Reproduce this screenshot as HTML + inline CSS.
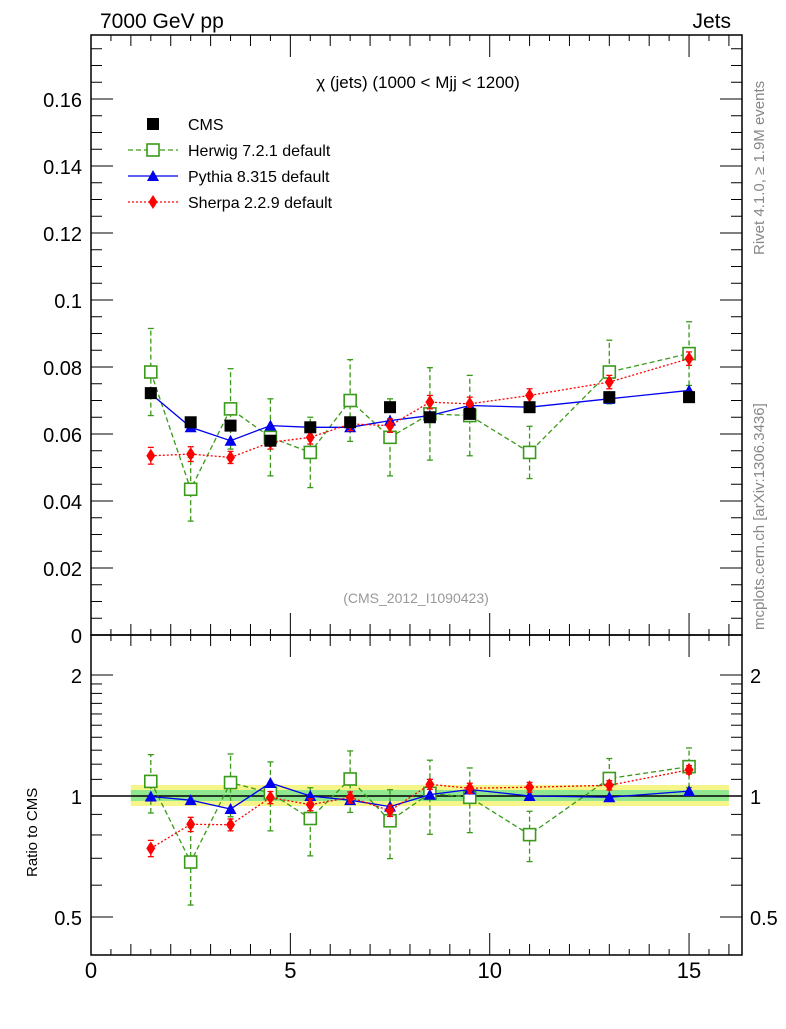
<!DOCTYPE html>
<html><head><meta charset="utf-8"><style>
body{margin:0;background:#fff;}
svg text{font-family:"Liberation Sans",sans-serif;}
</style></head><body>
<svg id="c" width="786" height="1024" xmlns="http://www.w3.org/2000/svg"></svg>
<script>
const xs=[1.5,2.5,3.5,4.5,5.5,6.5,7.5,8.5,9.5,11,13,15];
const cms=[0.0722,0.0635,0.0625,0.058,0.062,0.0635,0.068,0.065,0.066,0.068,0.071,0.071];
const herwig=[0.0785,0.0435,0.0675,0.059,0.0545,0.07,0.059,0.066,0.0655,0.0545,0.0785,0.084];
const herwigErr=[0.013,0.0095,0.012,0.0115,0.0105,0.0122,0.0115,0.0138,0.012,0.0078,0.0095,0.0095];
const pythia=[0.072,0.062,0.058,0.0625,0.062,0.062,0.064,0.0655,0.0685,0.068,0.0705,0.073];
const sherpa=[0.0535,0.054,0.053,0.0575,0.059,0.063,0.0625,0.0695,0.069,0.0715,0.0755,0.0825];
const sherpaErr=[0.0025,0.0022,0.0018,0.002,0.002,0.002,0.002,0.002,0.002,0.002,0.002,0.002];
const yTicks=[0,0.02,0.04,0.06,0.08,0.1,0.12,0.14,0.16];
const yTickLabels=["0","0.02","0.04","0.06","0.08","0.1","0.12","0.14","0.16"];
const rTicks=[0.5,1,2];
const xTicks=[0,5,10,15];

const S=document.getElementById('c');const NS='http://www.w3.org/2000/svg';
function el(t,a,p){const e=document.createElementNS(NS,t);for(const k in a)e.setAttribute(k,a[k]);(p||S).appendChild(e);return e;}
const L=91,R=742,T=35,M=635,B=955;
const X=v=>L+39.87*v;
const Y=v=>M-3350*v;
const YR=r=>796-121*Math.log2(r);

// frames
let f1=el('rect',{x:L,y:T,width:R-L,height:M-T,fill:'none',stroke:'#000','stroke-width':1.5});

let f2=el('rect',{x:L,y:M,width:R-L,height:B-M,fill:'none',stroke:'#000','stroke-width':1.5});


// x ticks
for(let v=0;v<=16.3;v+=0.5){
  const big=Math.abs(v%5)<1e-9,mid=Math.abs(v%1)<1e-9;
  const len=big?22:(mid?11:6);
  const px=X(v);
  [[T,1],[M,-1],[M,1],[B,-1]].forEach(([y0,d])=>el('line',{x1:px,x2:px,y1:y0,y2:y0+d*len,stroke:'#000','stroke-width':1}));
}
xTicks.forEach(v=>{const t=el('text',{x:X(v),y:978,'font-size':22,'text-anchor':'middle'});t.textContent=v;
});
// y ticks main
for(let v=0;v<=0.178;v+=0.005){const big=Math.abs(v/0.02-Math.round(v/0.02))<1e-6;const len=big?22:11;const py=Y(v);
el('line',{x1:L,x2:L+len,y1:py,y2:py,stroke:'#000'});el('line',{x1:R,x2:R-len,y1:py,y2:py,stroke:'#000'});}
yTicks.forEach((v,i)=>{const t=el('text',{x:82,y:Y(v)+8,'font-size':20,'text-anchor':'end'});t.textContent=yTickLabels[i];
});
// ratio ticks
[0.5,0.6,0.7,0.8,0.9,1,1.1,1.2,1.3,1.4,1.5,1.6,1.7,1.8,1.9,2].forEach(v=>{const big=rTicks.includes(v);const len=big?22:11;const py=YR(v);
el('line',{x1:L,x2:L+len,y1:py,y2:py,stroke:'#000'});el('line',{x1:R,x2:R-len,y1:py,y2:py,stroke:'#000'});});
rTicks.forEach(v=>{const t=el('text',{x:82,y:YR(v)+8,'font-size':20,'text-anchor':'end'});t.textContent=v;

const t2=el('text',{x:750,y:YR(v)+8,'font-size':20});t2.textContent=v;
});

// texts
function txt(s,a,name){const t=el('text',a);t.textContent=s;return t;}
txt('7000 GeV pp',{x:100,y:28,'font-size':21},'energy-label');
txt('Jets',{x:731,y:28,'font-size':21,'text-anchor':'end'},'process-label');
txt('χ (jets) (1000 < Mjj < 1200)',{x:418,y:88,'font-size':17,'text-anchor':'middle'},'plot-title');
txt('(CMS_2012_I1090423)',{x:416,y:603,'font-size':14,fill:'#999','text-anchor':'middle'},'analysis-id');
txt('Rivet 4.1.0, ≥ 1.9M events',{x:0,y:0,'font-size':15,fill:'#888',transform:'translate(764,255) rotate(-90)'},'rivet-label');
txt('mcplots.cern.ch [arXiv:1306.3436]',{x:0,y:0,'font-size':15,fill:'#888',transform:'translate(764,630) rotate(-90)'},'mcplots-label');
txt('Ratio to CMS',{x:0,y:0,'font-size':15,transform:'translate(37,877) rotate(-90)'},'ratio-y-title');

// ratio band
let yb=el('rect',{x:X(1),y:785,width:X(16)-X(1),height:21,fill:'#f5f58a'});
let gb=el('rect',{x:X(1),y:790,width:X(16)-X(1),height:11,fill:'#8fe88f'});
el('line',{x1:L,x2:R,y1:YR(1),y2:YR(1),stroke:'#000','stroke-width':1.5});

function marker(type,px,py,col,g){
  if(type==='sq')el('rect',{x:px-6,y:py-6,width:12,height:12,fill:'#000'},g);
  if(type==='osq')el('rect',{x:px-6,y:py-6,width:12,height:12,fill:'#fff',stroke:col,'stroke-width':1.6},g);
  if(type==='tri')el('polygon',{points:`${px},${py-6} ${px-6},${py+5} ${px+6},${py+5}`,fill:col},g);
  if(type==='dia')el('polygon',{points:`${px},${py-7} ${px-4.5},${py} ${px},${py+7} ${px+4.5},${py}`,fill:col},g);
}
function series(name,vals,errs,col,dash,type,ratio){
  const g=el('g',{});
  const fy=ratio?(i,v)=>YR(v/cms[i]):(i,v)=>Y(v);
  if(col){const pts=vals.map((v,i)=>X(xs[i])+','+fy(i,v)).join(' ');
  el('polyline',{points:pts,fill:'none',stroke:col,'stroke-width':1.3,'stroke-dasharray':dash||''},g);}
  vals.forEach((v,i)=>{
    if(errs){el('line',{x1:X(xs[i]),x2:X(xs[i]),y1:fy(i,v-errs[i]),y2:fy(i,v+errs[i]),stroke:col,'stroke-width':1.3,'stroke-dasharray':dash||''},g);
      [v-errs[i],v+errs[i]].forEach(e=>el('line',{x1:X(xs[i])-3,x2:X(xs[i])+3,y1:fy(i,e),y2:fy(i,e),stroke:col,'stroke-width':1.3},g));}
    marker(type,X(xs[i]),fy(i,v),col||'#000',g);
  });
}
series('herwig',herwig,herwigErr,'#3a9a1a','5,3','osq');
series('pythia',pythia,null,'#0000ee','','tri');
series('sherpa',sherpa,sherpaErr,'#ff0000','2,2','dia');
series('cms',cms,null,null,'','sq');
series('herwig',herwig,herwigErr,'#3a9a1a','5,3','osq',true);
series('pythia',pythia,null,'#0000ee','','tri',true);
series('sherpa',sherpa,sherpaErr,'#ff0000','2,2','dia',true);

// legend
const leg=[['CMS',null,'','sq'],['Herwig 7.2.1 default','#3a9a1a','5,3','osq'],['Pythia 8.315 default','#0000ee','','tri'],['Sherpa 2.2.9 default','#ff0000','2,2','dia']];
leg.forEach((l,i)=>{const g=el('g',{});
const py=124+26*i;
if(l[1])el('line',{x1:128,x2:178,y1:py,y2:py,stroke:l[1],'stroke-width':1.3,'stroke-dasharray':l[2]},g);
marker(l[3],153,py,l[1]||'#000',g);
const t=el('text',{x:188,y:py+6,'font-size':16},g);t.textContent=l[0];});
</script>
</body></html>
